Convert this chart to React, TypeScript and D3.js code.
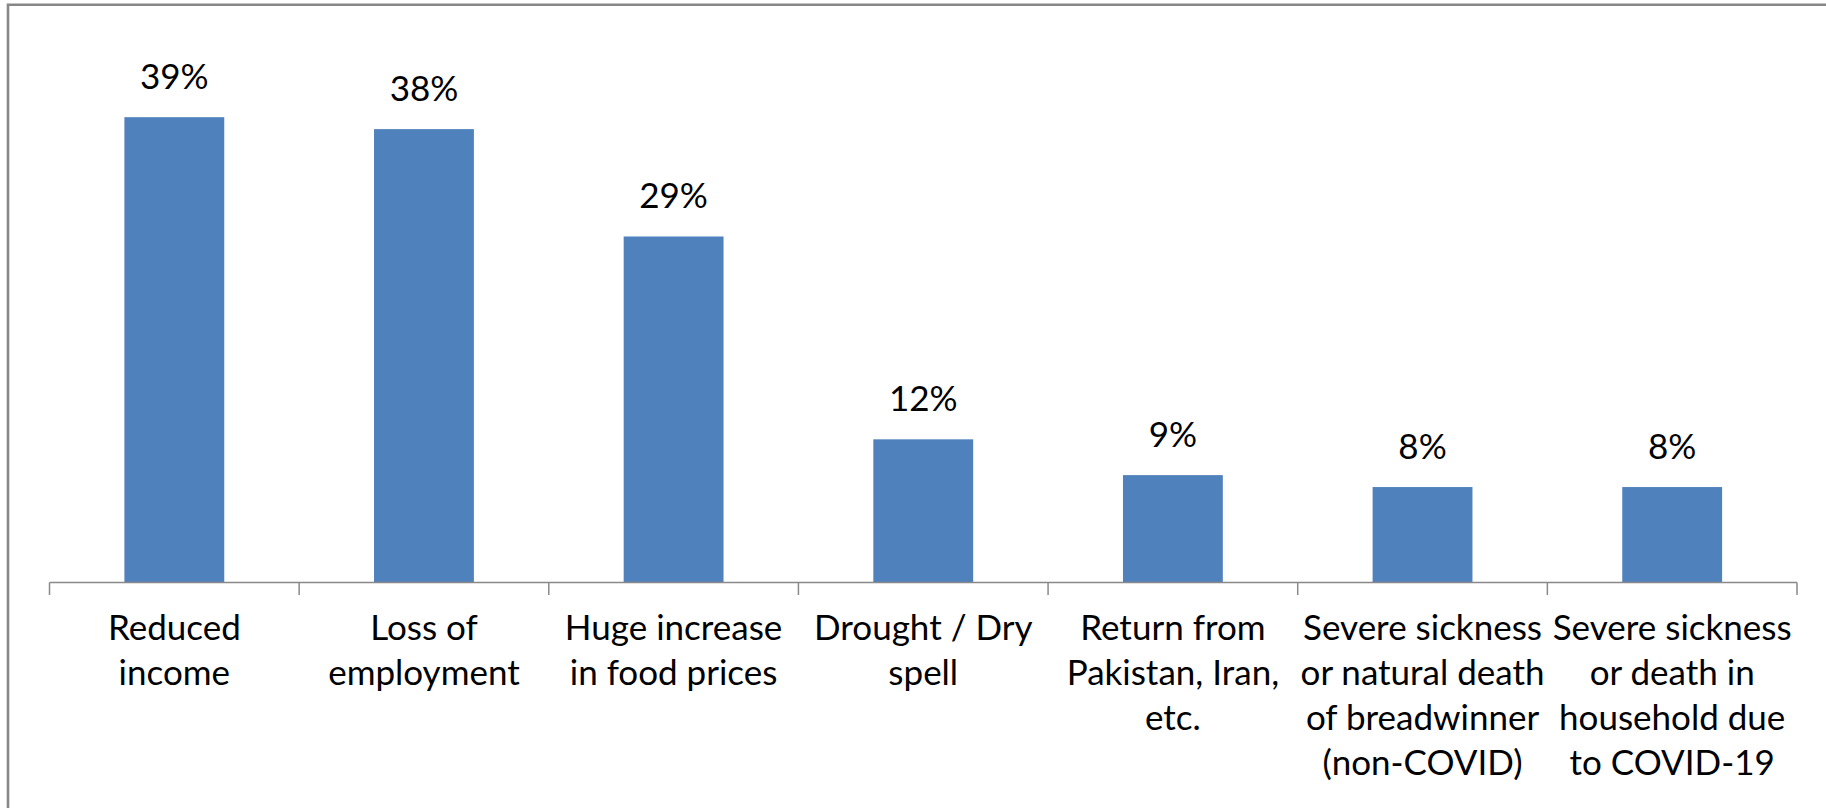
import React from "react";
import * as d3 from "d3";

// Reasons reported for household shocks, share of respondents
const categories: string[] = [
  "Reduced income",
  "Loss of employment",
  "Huge increase in food prices",
  "Drought / Dry spell",
  "Return from Pakistan, Iran, etc.",
  "Severe sickness or natural death of breadwinner (non-COVID)",
  "Severe sickness or death in household due to COVID-19",
];

// Wrapped axis label lines per category
const labelLines: string[][] = [
  ["Reduced", "income"],
  ["Loss of", "employment"],
  ["Huge increase", "in food prices"],
  ["Drought / Dry", "spell"],
  ["Return from", "Pakistan, Iran,", "etc."],
  ["Severe sickness", "or natural death", "of breadwinner", "(non-COVID)"],
  ["Severe sickness", "or death in", "household due", "to COVID-19"],
];

const values: number[] = [39, 38, 29, 12, 9, 8, 8];

const W = 1826;
const H = 808;
const FONT = "Lato, 'Open Sans', sans-serif";
const FONT_SIZE = 35;

export default function App() {
  const x = d3
    .scaleBand<string>()
    .domain(categories)
    .range([49.5, 1797])
    .paddingInner(0.6)
    .paddingOuter(0.3);

  const y = d3.scaleLinear().domain([0, 45]).range([582.5, 45.6]);

  const step = x.step();
  const x0 = x.range()[0];
  const boundaries = d3.range(categories.length + 1).map((i) => x0 + i * step);
  const baseY = y(0);

  return (
    <svg
      width={W}
      height={H}
      style={{ position: "absolute", left: 0, top: 0, background: "#fff" }}
    >
      <rect x={0} y={0} width={W} height={H} fill="#fff" />
      {/* chart frame (top and left edges) */}
      <path d={`M8,${H} V4.8 H${W}`} fill="none" stroke="#878787" strokeWidth={2.6} />

      {/* bars */}
      {categories.map((c, i) => (
        <rect
          key={c}
          x={x(c)!}
          y={y(values[i])}
          width={x.bandwidth()}
          height={baseY - y(values[i])}
          fill="#4F81BD"
        />
      ))}

      {/* value labels */}
      {categories.map((c, i) => (
        <text
          key={c + "-v"}
          x={x(c)! + x.bandwidth() / 2}
          y={y(values[i]) - 28}
          textAnchor="middle"
          fontFamily={FONT}
          fontSize={FONT_SIZE}
          fill="#000"
        >
          {`${values[i]}%`}
        </text>
      ))}

      {/* category axis */}
      <line x1={x0} x2={boundaries[boundaries.length - 1]} y1={baseY} y2={baseY} stroke="#898989" strokeWidth={1.5} />
      {boundaries.map((bx, i) => (
        <line key={i} x1={bx} x2={bx} y1={baseY} y2={baseY + 12.5} stroke="#898989" strokeWidth={1.5} />
      ))}

      {categories.map((c, i) => (
        <text
          key={c + "-l"}
          textAnchor="middle"
          fontFamily={FONT}
          fontSize={FONT_SIZE}
          fill="#000"
        >
          {labelLines[i].map((line, j) => (
            <tspan key={j} x={x(c)! + x.bandwidth() / 2} y={640.3 + j * 44.8}>
              {line}
            </tspan>
          ))}
        </text>
      ))}
    </svg>
  );
}
